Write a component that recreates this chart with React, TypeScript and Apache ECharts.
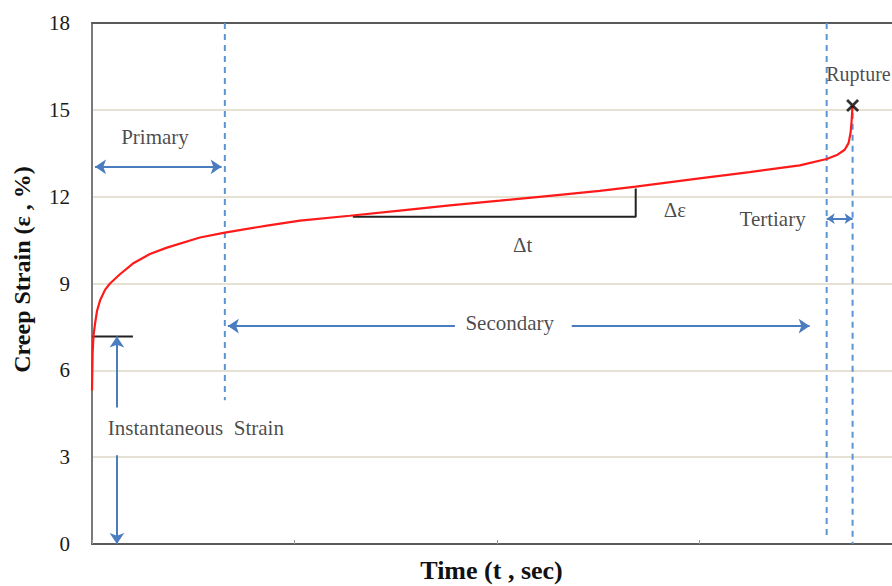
import React, { useEffect, useRef } from "react";
import * as echarts from "echarts";

// ---- data (time in arbitrary units, strain in %) ----
const TIME = [0, 0.3, 0.74, 1.48, 2.47, 3.95, 6.42, 8.88, 13.8, 20.2, 28.6, 37, 53.3, 65.6, 86.4, 102.7, 127.3, 152, 176.7, 201.4, 226, 250.7, 268.5, 300, 324.8, 349.5, 362.8, 368.2, 371.7, 373.6, 374.6, 375.1, 375.6];
const STRAIN = [5.3, 6.6, 7.2, 7.6, 8.05, 8.41, 8.78, 9.0, 9.32, 9.69, 10.02, 10.24, 10.59, 10.76, 11.0, 11.17, 11.34, 11.52, 11.7, 11.86, 12.03, 12.2, 12.35, 12.63, 12.85, 13.08, 13.3, 13.45, 13.62, 13.85, 14.2, 14.6, 15.15];

const Y_TICKS = [0, 3, 6, 9, 12, 15, 18];
const X_TICKS = [0, 100, 200, 300, 400];

// stage boundaries (time)
const PRIMARY_END = 65.6;
const SECONDARY_END = 362.8;
const RUPTURE_TIME = 375.6;
const RUPTURE_STRAIN = 15.15;
const INSTANT_STRAIN = 7.17;

// slope triangle
const TRI_T = [128.8, 268.5, 268.5];
const TRI_E = [11.31, 11.31, 12.28];

// annotation labels: [text, time, strain]
const LABEL_TEXT = ["Primary", "Secondary", "Δt", "Δε", "Tertiary", "Rupture", "Instantaneous  Strain"];
const LABEL_T = [31.1, 206.3, 212.7, 287.8, 336.1, 362.6, 51.3];
const LABEL_E = [14.07, 7.62, 10.34, 11.55, 11.24, 16.24, 4.0];

const FONT = "'Liberation Serif', 'Times New Roman', serif";
const BLUE = "#4a7dbf";
const DASH_BLUE = "#5b93d3";

function arrowSeries(name: string, p1: number[], p2: number[], symbols: string[], size = 11) {
  return {
    name,
    type: "line",
    data: [p1, p2],
    showSymbol: false,
    symbol: "none",
    lineStyle: { opacity: 0 },
    silent: true,
    z: 4,
    markLine: {
      silent: true,
      symbol: symbols,
      symbolSize: size,
      label: { show: false },
      lineStyle: { color: BLUE, width: 2, type: "solid" },
      data: [[{ coord: p1 }, { coord: p2 }]],
    },
  };
}

function plainLine(name: string, pts: number[][], color: string, width: number, dashed: boolean) {
  return {
    name,
    type: "line",
    data: pts,
    symbol: "none",
    showSymbol: false,
    silent: true,
    z: 3,
    lineStyle: { color, width, type: dashed ? [6, 5] : "solid" },
  };
}

export default function App() {
  const ref = useRef<HTMLDivElement>(null);
  useEffect(() => {
    if (!ref.current) return;
    const chart = echarts.init(ref.current, undefined, { renderer: "svg" });
    const curve = TIME.map((t, i) => [t, STRAIN[i]]);
    const labels = LABEL_TEXT.map((txt, i) => ({
      value: [LABEL_T[i], LABEL_E[i]],
      name: txt,
      label: txt === "Rupture" ? { align: "left", fontSize: 20 } : {},
    }));
    chart.setOption({
      animation: false,
      backgroundColor: "#ffffff",
      grid: { left: 92, top: 23, bottom: 42, right: -10, outerBoundsMode: "none", containLabel: false },
      xAxis: [
        {
          type: "value",
          min: X_TICKS[0],
          max: X_TICKS[X_TICKS.length - 1],
          interval: 100,
          name: "Time (t , sec)",
          nameLocation: "middle",
          nameGap: 12,
          nameTextStyle: { fontFamily: FONT, fontWeight: "bold", fontSize: 26, lineHeight: 28, color: "#111", padding: [0, 11, 0, 0] },
          axisLine: { show: true, lineStyle: { color: "#5a5a5a", width: 2 } },
          axisTick: { show: true, inside: true, length: 4, lineStyle: { color: "#999" } },
          axisLabel: { show: false },
          splitLine: { show: false },
        },
        {
          type: "value",
          position: "top",
          min: X_TICKS[0],
          max: X_TICKS[X_TICKS.length - 1],
          axisLine: { show: true, lineStyle: { color: "#5a5a5a", width: 2 } },
          axisTick: { show: false },
          axisLabel: { show: false },
          splitLine: { show: false },
        },
      ],
      yAxis: {
        type: "value",
        min: Y_TICKS[0],
        max: Y_TICKS[Y_TICKS.length - 1],
        interval: 3,
        name: "Creep Strain (ε , %)",
        nameLocation: "middle",
        nameGap: 58,
        nameTextStyle: { fontFamily: FONT, fontWeight: "bold", fontSize: 24, color: "#111", padding: [0, 0, 0, 28] },
        axisLine: { show: true, lineStyle: { color: "#7a7a7a", width: 2 } },
        axisTick: { show: false },
        axisLabel: { fontFamily: FONT, fontSize: 21, color: "#1a1a1a", margin: 22 },
        splitLine: { show: true, lineStyle: { color: "#dcd8c4", width: 1.5 } },
      },
      series: [
        plainLine("primaryBoundary", [[PRIMARY_END, 18], [PRIMARY_END, 4.97]], DASH_BLUE, 2, true),
        plainLine("secondaryBoundary", [[SECONDARY_END, 18], [SECONDARY_END, 0.15]], DASH_BLUE, 2, true),
        plainLine("ruptureBoundary", [[RUPTURE_TIME, 14.9], [RUPTURE_TIME, 0]], DASH_BLUE, 2, true),
        plainLine("instant", [[0, INSTANT_STRAIN], [20.2, INSTANT_STRAIN]], "#222", 2, false),
        plainLine("triangle", TRI_T.map((t, i) => [t, TRI_E[i]]), "#222", 2, false),
        arrowSeries("primaryArrow", [1.5, 13.03], [64, 13.03], ["arrow", "arrow"]),
        arrowSeries("secondaryArrowL", [179.2, 7.53], [67.1, 7.53], ["none", "arrow"]),
        arrowSeries("secondaryArrowR", [236.9, 7.53], [354.4, 7.53], ["none", "arrow"]),
        arrowSeries("tertiaryArrow", [SECONDARY_END, 11.24], [RUPTURE_TIME, 11.24], ["arrow", "arrow"], 8),
        arrowSeries("instantUp", [12.3, 4.72], [12.3, INSTANT_STRAIN], ["none", "arrow"]),
        arrowSeries("instantDown", [12.3, 3.07], [12.3, 0], ["none", "arrow"]),
        {
          name: "Creep strain",
          type: "line",
          data: curve,
          symbol: "none",
          showSymbol: false,
          z: 5,
          lineStyle: { color: "#ff1a1a", width: 2.2 },
        },
        {
          name: "Rupture",
          type: "scatter",
          data: [[RUPTURE_TIME, RUPTURE_STRAIN]],
          symbol: "path://M0,1.5L1.5,0L5,3.5L8.5,0L10,1.5L6.5,5L10,8.5L8.5,10L5,6.5L1.5,10L0,8.5L3.5,5Z",
          symbolSize: 13,
          itemStyle: { color: "#000" },
          z: 6,
        },
        {
          name: "labels",
          type: "scatter",
          data: labels,
          symbolSize: 0,
          silent: true,
          z: 7,
          label: {
            show: true,
            position: "inside",
            formatter: "{b}",
            fontFamily: FONT,
            fontSize: 21,
            color: "#1a1a1a",
          },
        },
      ],
    });
    return () => chart.dispose();
  }, []);
  return (
    <div style={{ position: "fixed", left: 0, top: 0, width: 892, height: 586, overflow: "hidden", background: "#fff" }}>
      <div ref={ref} style={{ width: 892, height: 586 }} />
    </div>
  );
}
